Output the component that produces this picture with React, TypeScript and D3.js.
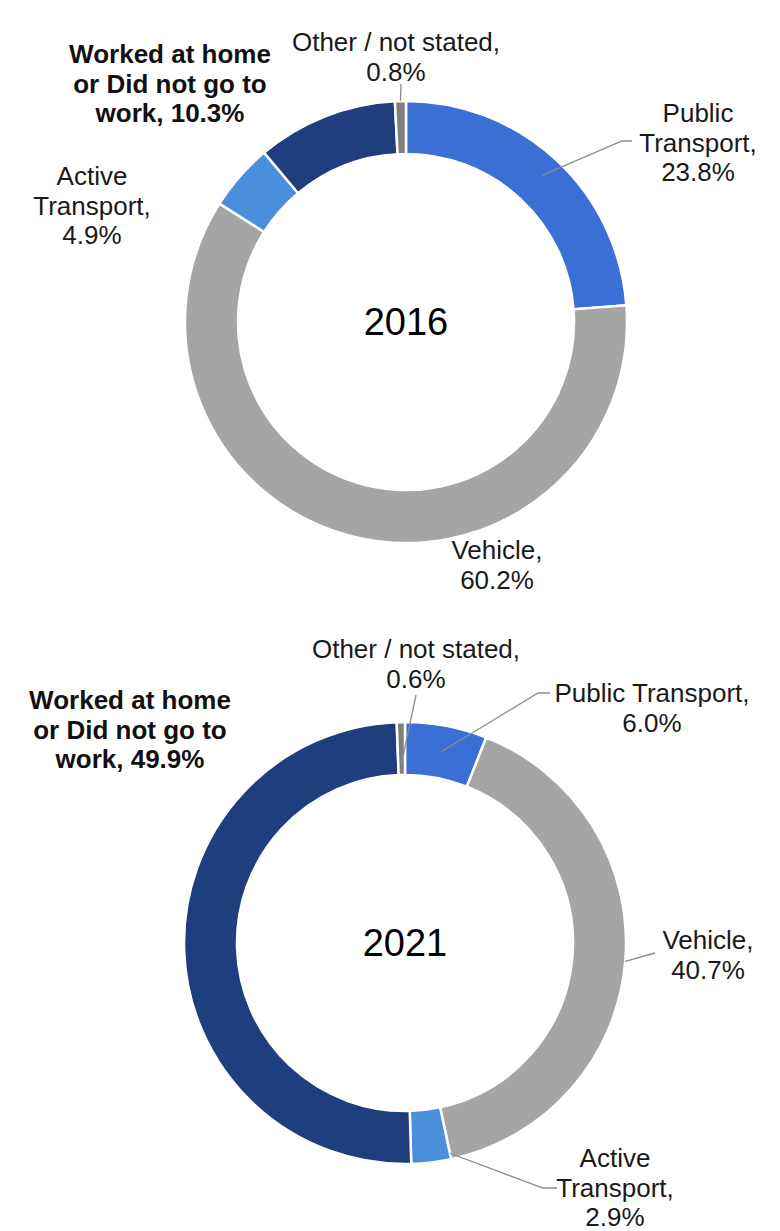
import React from 'react';
import * as d3 from 'd3';

const categories = ['Public Transport', 'Vehicle', 'Active Transport', 'Worked at home or Did not go to work', 'Other / not stated'];
const values2016 = [23.8, 60.2, 4.9, 10.3, 0.8];
const values2021 = [6.0, 40.7, 2.9, 49.9, 0.6];
const years = ['2016', '2021'];
const colors = ['#3b6fd5', '#a5a5a5', '#4a8fdb', '#1f3e7e', '#7f7f7f'];

// label line splits (name part), value appended to last line
const split2016 = [['Public', 'Transport,'], ['Vehicle,'], ['Active', 'Transport,'], ['Worked at home', 'or Did not go to', 'work,'], ['Other / not stated,']];
const split2021 = [['Public Transport,'], ['Vehicle,'], ['Active', 'Transport,'], ['Worked at home', 'or Did not go to', 'work,'], ['Other / not stated,']];

type LabelLayout = { x: number; y: number; bold?: boolean; valueOwnLine: boolean; leader?: { pts: [number, number][]; t: number; r: number } };

const layouts: { cx: number; cy: number; labels: LabelLayout[] }[] = [
  {
    cx: 406, cy: 322,
    labels: [
      { x: 698, y: 122, valueOwnLine: true, leader: { pts: [[632, 141], [622, 141]], t: 0.5, r: 200 } },
      { x: 497, y: 559, valueOwnLine: true },
      { x: 92, y: 185, valueOwnLine: true },
      { x: 170, y: 63, bold: true, valueOwnLine: false },
      { x: 396, y: 51, valueOwnLine: true, leader: { pts: [[401, 84]], t: 0.5, r: 221 } },
    ],
  },
  {
    cx: 405, cy: 943,
    labels: [
      { x: 652, y: 702, valueOwnLine: true, leader: { pts: [[550, 693], [538, 693]], t: 0.5, r: 195 } },
      { x: 708, y: 949, valueOwnLine: true, leader: { pts: [[655, 953]], t: 0.5, r: 221 } },
      { x: 615, y: 1167, valueOwnLine: true, leader: { pts: [[557, 1188], [543, 1188]], t: 0, r: 215 } },
      { x: 130, y: 709, bold: true, valueOwnLine: false },
      { x: 416, y: 658, valueOwnLine: true, leader: { pts: [[416, 695]], t: 0.5, r: 180 } },
    ],
  },
];

const INNER = 168;
const OUTER = 221;
const LH = 29.5;

function Donut({ values, splits, year, layout }: { values: number[]; splits: string[][]; year: string; layout: typeof layouts[0] }) {
  const pie = d3.pie<number>().sort(null).value((d) => d).startAngle(0).endAngle(2 * Math.PI);
  const arcs = pie(values);
  const arcGen = d3.arc<d3.PieArcDatum<number>>().innerRadius(INNER).outerRadius(OUTER);
  const { cx, cy } = layout;
  return (
    <g>
      <g transform={`translate(${cx},${cy})`}>
        {arcs.map((a, i) => (
          <path key={i} d={arcGen(a) || ''} fill={colors[i]} stroke="#ffffff" strokeWidth={2.5} />
        ))}
      </g>
      <text x={cx} y={cy} textAnchor="middle" dominantBaseline="central" fontSize={38} fill="#000" fontFamily="'Liberation Sans', Arial, sans-serif">
        {year}
      </text>
      {arcs.map((a, i) => {
        const lab = layout.labels[i];
        const val = `${values[i].toFixed(1)}%`;
        const lines = [...splits[i]];
        if (lab.valueOwnLine) lines.push(val);
        else lines[lines.length - 1] = `${lines[lines.length - 1]} ${val}`;
        let leader = null;
        if (lab.leader) {
          const ang = a.startAngle + (a.endAngle - a.startAngle) * lab.leader.t;
          const px = cx + lab.leader.r * Math.sin(ang);
          const py = cy - lab.leader.r * Math.cos(ang);
          const pts = [...lab.leader.pts, [px, py]] as [number, number][];
          leader = <path d={d3.line()(pts) || ''} fill="none" stroke="#8c8c8c" strokeWidth={1.3} />;
        }
        return (
          <g key={i}>
            {leader}
            <text
              x={lab.x}
              y={lab.y}
              textAnchor="middle"
              fontSize={26}
              fontWeight={lab.bold ? 'bold' : 'normal'}
              fill={lab.bold ? '#111' : '#1a1a1a'}
              fontFamily="'Liberation Sans', Arial, sans-serif"
            >
              {lines.map((l, k) => (
                <tspan key={k} x={lab.x} y={lab.y + k * LH}>
                  {l}
                </tspan>
              ))}
            </text>
          </g>
        );
      })}
    </g>
  );
}

export default function App() {
  return (
    <svg width={780} height={1231} style={{ position: 'absolute', left: 0, top: 0, background: '#fff' }}>
      <rect width={780} height={1231} fill="#fff" />
      <Donut values={values2016} splits={split2016} year={years[0]} layout={layouts[0]} />
      <Donut values={values2021} splits={split2021} year={years[1]} layout={layouts[1]} />
      <title>{categories.join(', ')}</title>
    </svg>
  );
}
